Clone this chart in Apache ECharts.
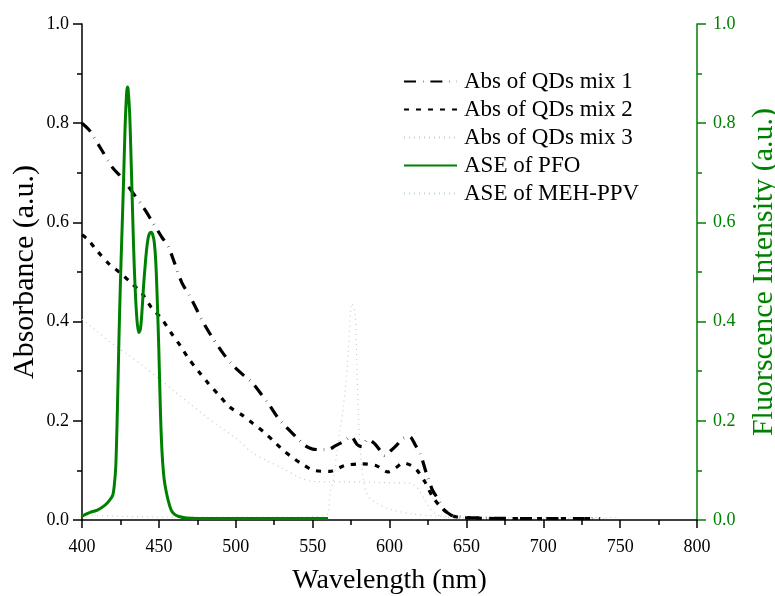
<!DOCTYPE html>
<html>
<head>
<meta charset="utf-8">
<script src="https://cdn.jsdelivr.net/npm/echarts@6/dist/echarts.min.js"></script>
<style>html,body{margin:0;padding:0;background:#fff;overflow:hidden}#c{width:775px;height:596px;position:absolute;left:0;top:0}</style>
</head>
<body>
<div id="c"></div>
<script>
// ---- data ----
var seriesNames = ['Abs of QDs mix 1', 'Abs of QDs mix 2', 'Abs of QDs mix 3', 'ASE of PFO', 'ASE of MEH-PPV'];
var xTicks = [400, 450, 500, 550, 600, 650, 700, 750, 800];
var yTicks = [0.0, 0.2, 0.4, 0.6, 0.8, 1.0];

var mix1Wl = [400,405,412,420,426,433,440,446,452,456,460,465,470,475,480,486,492,498,505,511,517,521,527,532,540,545,550,555,560,565,570,575,579,582,586,590,594,597,601,605,609,613,617,620,624,628,632,635,640,644,650,660,680,700,720,737];
var mix1Val = [0.800,0.785,0.750,0.710,0.690,0.660,0.630,0.600,0.570,0.552,0.520,0.478,0.452,0.422,0.392,0.362,0.335,0.312,0.292,0.276,0.252,0.236,0.208,0.190,0.165,0.150,0.143,0.142,0.142,0.150,0.158,0.168,0.152,0.148,0.163,0.155,0.140,0.130,0.140,0.152,0.165,0.168,0.150,0.134,0.094,0.060,0.040,0.022,0.010,0.007,0.005,0.004,0.003,0.003,0.003,0.003];

var mix2Wl = [400,404,410,418,425,433,439,445,452,458,464,469,476,482,489,496,504,511,518,525,530,536,542,551,561,571,581,591,599,604,609,614,618,623,628,634,640,644,652,670,700,735];
var mix2Val = [0.575,0.565,0.542,0.515,0.498,0.475,0.457,0.429,0.405,0.377,0.351,0.327,0.299,0.276,0.252,0.228,0.212,0.195,0.178,0.158,0.143,0.128,0.115,0.100,0.098,0.110,0.113,0.110,0.097,0.105,0.115,0.110,0.100,0.077,0.047,0.024,0.010,0.006,0.004,0.003,0.003,0.003];

var mix3Wl = [400,410,420,430,440,450,460,470,480,490,500,511,520,530,542,550,560,570,580,590,600,612,618,623,626,630,636,645,660,700,740];
var mix3Val = [0.405,0.380,0.355,0.333,0.310,0.285,0.260,0.235,0.210,0.187,0.165,0.135,0.120,0.105,0.085,0.078,0.077,0.077,0.077,0.076,0.075,0.075,0.065,0.040,0.025,0.012,0.006,0.004,0.004,0.003,0.003];

var pfoWl = [400,405,410,415,418,420,421,422,423,424,425,426,427,428,429,429.5,430,431,432,433,434,435,436,437,438,439,440,441,442,443,444,445,446,447,448,449,450,451,452,453,454,456,458,460,463,468,475,500,530,560];
var pfoVal = [0.008,0.015,0.020,0.030,0.040,0.050,0.070,0.110,0.220,0.360,0.480,0.580,0.680,0.790,0.860,0.873,0.868,0.820,0.720,0.610,0.510,0.440,0.395,0.378,0.385,0.420,0.470,0.510,0.545,0.568,0.578,0.580,0.575,0.560,0.520,0.440,0.340,0.220,0.140,0.095,0.070,0.040,0.020,0.012,0.007,0.004,0.003,0.003,0.003,0.003];

var mehWl = [400,420,450,500,540,555,560,561.3,563.5,565.7,567.8,570,572.2,574,575.5,577.6,578.7,579.7,580.8,583,586.2,591.6,598.2,604.7,615,630,650,700,750];
var mehVal = [0.010,0.008,0.006,0.006,0.006,0.008,0.013,0.054,0.080,0.135,0.180,0.228,0.296,0.383,0.437,0.417,0.316,0.215,0.148,0.080,0.047,0.034,0.024,0.018,0.012,0.008,0.006,0.005,0.005];

function pairs(w, v) { return w.map(function (x, i) { return [x, v[i]]; }); }

var FONT = 'Liberation Serif';
var GREEN = '#008000';

var chart = echarts.init(document.getElementById('c'), null, { renderer: 'canvas', width: 775, height: 596 });
chart.setOption({
  animation: false,
  backgroundColor: '#fff',
  grid: { left: 82, right: 78, top: 24, bottom: 76, containLabel: false, outerBoundsMode: 'none' },
  legend: {
    left: 403, top: 70, orient: 'vertical', padding: 0,
    itemWidth: 53, itemHeight: 14, itemGap: 5,
    itemStyle: { opacity: 0 },
    textStyle: { fontFamily: FONT, fontSize: 23, color: '#000', padding: [0, 0, 0, 2] },
    data: seriesNames
  },
  xAxis: {
    type: 'value', min: 400, max: 800, interval: 50,
    name: 'Wavelength (nm)', nameLocation: 'middle', nameGap: 47, nameMoveOverlap: false,
    nameTextStyle: { fontFamily: FONT, fontSize: 28, color: '#000' },
    axisLine: { lineStyle: { color: '#000', width: 1.5 } },
    axisTick: { length: 8, lineStyle: { color: '#000', width: 1.5 } },
    minorTick: { show: true, splitNumber: 2, length: 5, lineStyle: { color: '#000', width: 1.5 } },
    axisLabel: { fontFamily: FONT, fontSize: 18, color: '#000', margin: 18 },
    splitLine: { show: false }
  },
  yAxis: [{
    type: 'value', min: 0, max: 1, interval: 0.2, position: 'left',
    name: 'Absorbance (a.u.)', nameLocation: 'middle', nameGap: 42, nameMoveOverlap: false,
    nameTextStyle: { fontFamily: FONT, fontSize: 30, color: '#000' },
    axisLine: { show: true, lineStyle: { color: '#000', width: 1.5 } },
    axisTick: { show: true, length: 9, lineStyle: { color: '#000', width: 1.5 } },
    minorTick: { show: true, splitNumber: 2, length: 5, lineStyle: { color: '#000', width: 1.5 } },
    axisLabel: { fontFamily: FONT, fontSize: 18, color: '#000', margin: 13, formatter: function (v) { return v.toFixed(1); } },
    splitLine: { show: false }
  }, {
    type: 'value', min: 0, max: 1, interval: 0.2, position: 'right',
    name: 'Fluorscence Intensity (a.u.)', nameLocation: 'middle', nameGap: 52, nameMoveOverlap: false,
    nameTextStyle: { fontFamily: FONT, fontSize: 30, color: GREEN },
    axisLine: { show: true, lineStyle: { color: GREEN, width: 1.5 } },
    axisTick: { show: true, length: 9, lineStyle: { color: GREEN, width: 1.5 } },
    minorTick: { show: true, splitNumber: 2, length: 5, lineStyle: { color: GREEN, width: 1.5 } },
    axisLabel: { fontFamily: FONT, fontSize: 18, color: GREEN, margin: 16, formatter: function (v) { return v.toFixed(1); } },
    splitLine: { show: false }
  }],
  series: [
    { name: seriesNames[0], type: 'line', yAxisIndex: 0, data: pairs(mix1Wl, mix1Val), symbol: 'none', smooth: 0.3,
      lineStyle: { color: '#000', width: 3.2, type: [12, 7, 0.4, 7] }, itemStyle: { color: '#000' }, z: 3 },
    { name: seriesNames[1], type: 'line', yAxisIndex: 0, data: pairs(mix2Wl, mix2Val), symbol: 'none', smooth: 0.3,
      lineStyle: { color: '#000', width: 3.2, type: [5, 7] }, itemStyle: { color: '#000' }, z: 3 },
    { name: seriesNames[2], type: 'line', yAxisIndex: 0, data: pairs(mix3Wl, mix3Val), symbol: 'none', smooth: 0.3,
      lineStyle: { color: '#c8c8c8', width: 1.2, type: [1, 4] }, itemStyle: { color: '#c8c8c8' }, z: 2 },
    { name: seriesNames[3], type: 'line', yAxisIndex: 1, data: pairs(pfoWl, pfoVal), symbol: 'none', smooth: 0.3,
      lineStyle: { color: GREEN, width: 3 }, itemStyle: { color: GREEN }, z: 5 },
    { name: seriesNames[4], type: 'line', yAxisIndex: 1, data: pairs(mehWl, mehVal), symbol: 'none', smooth: 0.3,
      lineStyle: { color: '#b5dcb5', width: 1.2, type: [1, 4] }, itemStyle: { color: '#b5dcb5' }, z: 2 }
  ]
});
</script>
</body>
</html>
